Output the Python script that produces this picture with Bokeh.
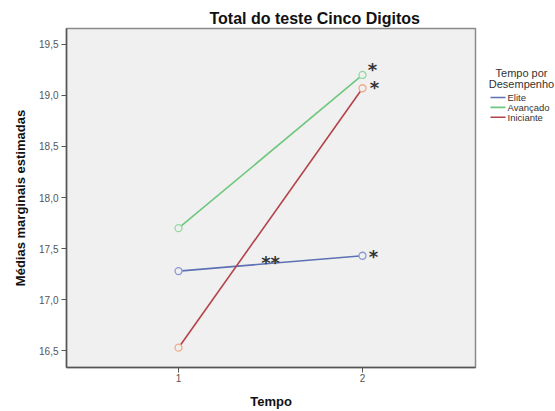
from bokeh.plotting import figure
from bokeh.layouts import row
from bokeh.models import Range1d, FixedTicker, ColumnDataSource
from bokeh.core.properties import value
from bokeh.embed import file_html
from bokeh.resources import INLINE

# Estimated marginal means per group at each time point
tempo = [1, 2]
elite = [17.28, 17.43]
avancado = [17.70, 19.20]
iniciante = [16.53, 19.07]
grupos = ["Elite", "Avançado", "Iniciante"]
legenda_titulo = ["Tempo por", "Desempenho"]
y_ticks = [16.5, 17.0, 17.5, 18.0, 18.5, 19.0, 19.5]
x_ticks = [1, 2]

line_colors = ["#5d71b4", "#6fc77f", "#b3434b"]
marker_colors = ["#8a9ad0", "#95d8a2", "#f2a98a"]

FONT = "Liberation Sans"
TOP, BOTTOM = 28, 39

p = figure(width=477, height=411, output_backend="svg", toolbar_location=None,
           x_range=Range1d(0.391, 2.614), y_range=Range1d(16.336, 19.655),
           min_border_left=66, min_border_right=2, min_border_top=TOP,
           min_border_bottom=BOTTOM)

p.background_fill_color = "#f0f0f0"
p.border_fill_color = "white"
p.outline_line_color = "#8a8a8a"
p.outline_line_width = 1.5
p.xgrid.visible = False
p.ygrid.visible = False

# Title
p.title.text = "Total do teste Cinco Digitos"
p.title.text_font = FONT
p.title.text_font_size = "16px"
p.title.text_font_style = "bold"
p.title.text_color = "#111111"
p.title.align = "left"
p.title.offset = 143
p.title.standoff = 3

# Axes
for ax in (p.xaxis[0], p.yaxis[0]):
    ax.axis_line_color = "#555555"
    ax.axis_line_width = 1.5
    ax.major_tick_line_color = "#555555"
    ax.major_tick_in = 0
    ax.major_tick_out = 5
    ax.minor_tick_line_color = None
    ax.major_label_text_font = FONT
    ax.major_label_text_font_size = "10px"
    ax.major_label_text_color = "#555555"
    ax.axis_label_text_font = FONT
    ax.axis_label_text_font_style = "bold"
    ax.axis_label_text_color = "#111111"

p.yaxis.ticker = FixedTicker(ticks=y_ticks)
p.yaxis.major_label_overrides = {t: f"{t:.1f}".replace(".", ",") for t in y_ticks}
p.yaxis.major_label_standoff = 3
p.yaxis.axis_label = "Médias marginais estimadas"
p.yaxis.axis_label_text_font_size = "13px"
p.yaxis.axis_label_standoff = 8

p.xaxis.ticker = FixedTicker(ticks=x_ticks)
p.xaxis.major_label_standoff = 1
p.xaxis.axis_label = "Tempo"
p.xaxis.axis_label_text_font_size = "13px"
p.xaxis.axis_label_standoff = 9

# Lines with open circle markers
for ys, lc, mc in zip([elite, avancado, iniciante], line_colors, marker_colors):
    src = ColumnDataSource(dict(x=tempo, y=ys))
    p.line("x", "y", source=src, line_color=lc, line_width=1.6)
    p.scatter("x", "y", source=src, marker="circle", size=7,
              line_color=mc, fill_color="#f0f0f0", line_width=1.3)

# Significance markers
star_src = ColumnDataSource(dict(
    x=[tempo[1], tempo[1], tempo[1], (tempo[0] + tempo[1]) / 2],
    y=[avancado[1], iniciante[1], elite[1], (elite[0] + elite[1]) / 2],
    t=["*", "*", "*", "**"],
    dx=[10, 12, 11, 0],
    dy=[-5, -1, 1, -1],
))
p.text("x", "y", text="t", source=star_src, x_offset="dx", y_offset="dy",
       text_font=value("DejaVu Sans"), text_font_size="18px",
       text_font_style="bold", text_color="#333333",
       text_align="center", text_baseline="middle")

# Legend panel: a blank figure whose frame is aligned with the main frame,
# using page-pixel coordinates (y grows downward)
lg = figure(width=78, height=411, output_backend="svg", toolbar_location=None,
            x_range=Range1d(0, 78), y_range=Range1d(411 - BOTTOM, TOP),
            min_border=0, min_border_top=TOP, min_border_bottom=BOTTOM,
            outline_line_color=None, title=None)
lg.axis.visible = False
lg.grid.visible = False
lg.background_fill_color = "white"
lg.border_fill_color = "white"

lg.text(x=[44, 44], y=[73, 84], text=legenda_titulo,
        text_font=value(FONT), text_font_size="11px", text_color="#333333",
        text_align="center", text_baseline="middle")

item_y = [98, 108, 118]
lg.segment(x0=[13] * 3, y0=item_y, x1=[28] * 3, y1=item_y,
           line_color=line_colors, line_width=1.6)
lg.text(x=[30] * 3, y=item_y, text=grupos,
        text_font=value(FONT), text_font_size="9.5px", text_color="#333333",
        text_align="left", text_baseline="middle")

layout = row(p, lg, spacing=0)
open("out.html", "w").write(file_html(layout, INLINE))
